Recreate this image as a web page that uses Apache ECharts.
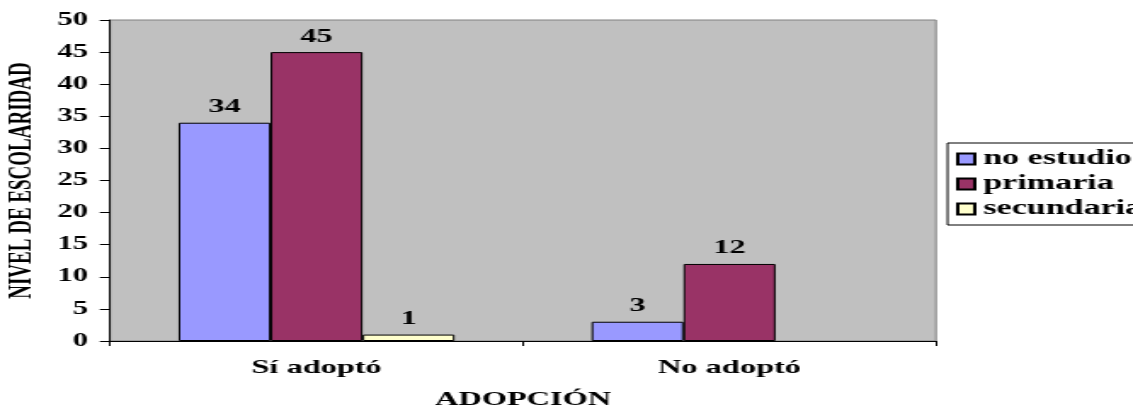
<!DOCTYPE html>
<html>
<head>
<meta charset="utf-8">
<script src="https://cdn.jsdelivr.net/npm/echarts@6/dist/echarts.min.js"></script>
<style>
html,body{margin:0;padding:0;background:#fff;overflow:hidden;width:1133px;height:408px;}
#c{width:666px;height:408px;transform:scaleX(1.70120);transform-origin:0 0;}
</style>
</head>
<body>
<div id="c"></div>
<script>
var categories = ['Sí adoptó', 'No adoptó'];
var noEstudio = [34, 3];
var primaria = [45, 12];
var secundaria = [1, null];
var seriesNames = ['no estudio', 'primaria', 'secundaria'];
var seriesColors = ['#9999FF', '#993366', '#FFFFCC'];
var yTicks = {min: 0, max: 50, interval: 5};

var FONT = '"Liberation Serif", "Times New Roman", serif';
var chart = echarts.init(document.getElementById('c'), null, {renderer: 'canvas'});
var seriesData = [noEstudio, primaria, secundaria];
var series = seriesNames.map(function (n, i) {
  return {
    name: n,
    type: 'bar',
    data: seriesData[i],
    barWidth: 54.08,
    barGap: '0%',
    itemStyle: {color: seriesColors[i], borderColor: '#000', borderWidth: 1},
    label: {show: true, position: 'top', distance: 6, color: '#000', fontFamily: FONT, fontWeight: 'bold', fontSize: 19},
    emphasis: {disabled: true}
  };
});
chart.setOption({
  animation: false,
  backgroundColor: '#fff',
  grid: {left: 64.7, top: 20, width: 485.5, height: 321, outerBoundsMode: 'none', containLabel: false,
    show: true, backgroundColor: '#C0C0C0', borderColor: '#808080', borderWidth: 1},
  legend: {
    left: 557, top: 143, orient: 'vertical', itemGap: 5, itemWidth: 10, itemHeight: 11,
    icon: 'rect', padding: [6, 60, 6, 5],
    borderColor: '#000', borderWidth: 1, backgroundColor: '#fff',
    textStyle: {fontFamily: FONT, fontWeight: 'bold', fontSize: 20, color: '#000'},
    data: seriesNames
  },
  xAxis: {
    type: 'category', data: categories,
    name: 'ADOPCIÓN', nameLocation: 'middle', nameGap: 50,
    nameTextStyle: {fontFamily: FONT, fontWeight: 'bold', fontSize: 19, color: '#000'},
    axisLine: {lineStyle: {color: '#000', width: 1}},
    axisTick: {show: true, length: 5, lineStyle: {color: '#000'}},
    axisLabel: {fontFamily: FONT, fontWeight: 'bold', fontSize: 19, color: '#000', margin: 18}
  },
  yAxis: {
    type: 'value', min: yTicks.min, max: yTicks.max, interval: yTicks.interval,
    name: 'NIVEL DE ESCOLARIDAD', nameLocation: 'middle', nameGap: 39,
    nameTextStyle: {fontFamily: FONT, fontWeight: 'bold', fontSize: 19, color: '#000'},
    axisLine: {show: true, lineStyle: {color: '#000', width: 1}},
    axisTick: {show: true, length: 6, lineStyle: {color: '#000'}},
    splitLine: {show: false},
    axisLabel: {fontFamily: FONT, fontWeight: 'bold', fontSize: 18, color: '#000', margin: 13}
  },
  series: series
});
</script>
</body>
</html>
